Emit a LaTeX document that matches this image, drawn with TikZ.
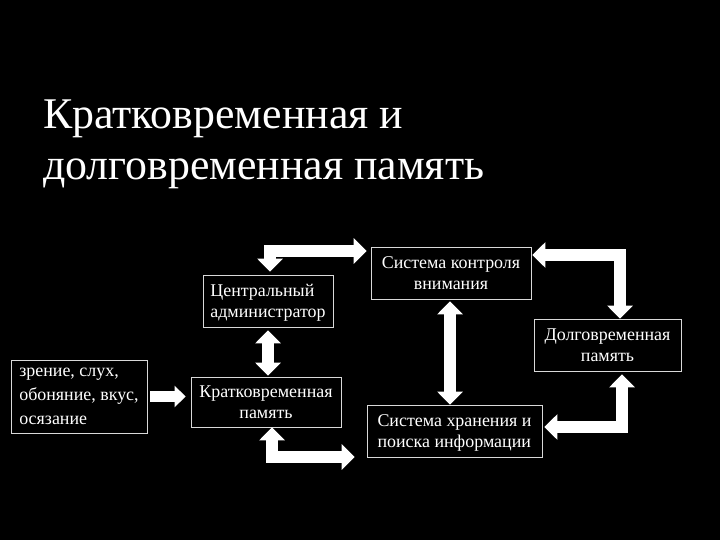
\documentclass[tikz,border=0pt]{standalone}
\usepackage{fontspec}
\setmainfont{Liberation Serif}
\usetikzlibrary{arrows.meta}

\begin{document}
\begin{tikzpicture}
[x=1bp,y=-1bp,
  boxDecorate/.style={draw=white!85!black,line width=0.8bp,fill=black,text=white,
    font=\fontsize{18}{21}\selectfont,inner sep=0pt,minimum height=52bp,text depth=0pt},
  arrowDecorate/.style={white,line width=12bp,line join=miter,
    {Triangle[length=13bp,width=25bp]}-{Triangle[length=13bp,width=25bp]}},
  singleDecorate/.style={white,line width=11bp,-{Triangle[length=11bp,width=21bp]}}]
\fill[black] (0,0) rectangle (720,540);
%% title
\node (title) at (43,180) [anchor=base west,align=left,inner sep=0pt,text=white,
  font=\fontsize{44}{52}\selectfont] {Кратковременная и\\долговременная память};
%% boxes
\node (admin) at (268,301) [boxDecorate,minimum width=130bp,align=left] {Центральный\\администратор};
\node (control) at (451,273) [boxDecorate,minimum width=160bp,align=center] {Система контроля\\внимания};
\node (longterm) at (607.5,345) [boxDecorate,minimum width=147bp,align=center] {Долговременная\\память};
\node (senses) at (79,396.5) [boxDecorate,minimum width=136bp,minimum height=73bp,align=left,
  font=\fontsize{18}{24}\selectfont] {зрение, слух,\\обоняние, вкус,\\осязание};
\node (shortterm) at (266,402) [boxDecorate,minimum width=150bp,minimum height=50bp,align=center] {Кратковременная\\память};
\node (storage) at (454.5,431) [boxDecorate,minimum width=175bp,align=left] {Система хранения и\\поиска информации};
%% arrows
\draw[singleDecorate,shorten <=3bp,shorten >=5bp] (senses.east) -- (senses.east -| shortterm.west);
\draw[arrowDecorate,shorten <=3bp,shorten >=1bp] (admin.south) -- (admin.south |- shortterm.north);
\draw[arrowDecorate,shorten <=3bp,shorten >=4bp] ([xshift=2bp]admin.north) |- ([yshift=22bp]control.west);
\draw[arrowDecorate,shorten <=2bp] ([xshift=-1bp]control.south) -- ([xshift=-1bp]control.south |- storage.north);
\draw[arrowDecorate,shorten >=1bp] ([xshift=12.5bp]longterm.north) |- ([yshift=18bp]control.east);
\draw[arrowDecorate,shorten <=3bp,shorten >=2bp] ([xshift=14.5bp]longterm.south) |- ([yshift=4bp]storage.east);
\draw[arrowDecorate,shorten >=12bp] ([xshift=6bp]shortterm.south) |- ([yshift=-26bp]storage.west);
\end{tikzpicture}
\end{document}
